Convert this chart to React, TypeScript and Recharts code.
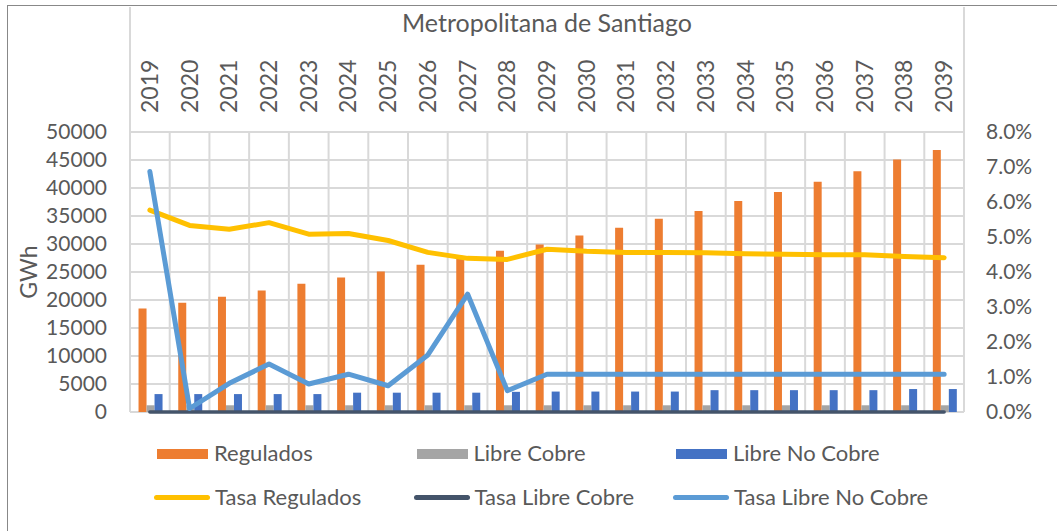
import React from 'react';
import { ComposedChart, Bar, Line, XAxis, YAxis, CartesianGrid, Legend } from 'recharts';

const years = ['2019', '2020', '2021', '2022', '2023', '2024', '2025', '2026', '2027', '2028', '2029', '2030', '2031', '2032', '2033', '2034', '2035', '2036', '2037', '2038', '2039'];
const regulados = [18500, 19500, 20600, 21700, 22900, 24000, 25100, 26300, 27600, 28800, 29900, 31500, 32900, 34500, 35900, 37700, 39300, 41100, 43000, 45100, 46800];
const libreCobre = [1200, 1200, 1200, 1200, 1200, 1200, 1200, 1200, 1200, 1200, 1200, 1200, 1200, 1200, 1200, 1200, 1200, 1200, 1200, 1200, 1200];
const libreNoCobre = [3200, 3200, 3200, 3200, 3200, 3450, 3450, 3450, 3450, 3600, 3650, 3650, 3650, 3650, 3900, 3900, 3900, 3900, 3900, 4100, 4100];
const tasaRegulados = [0.0577, 0.0533, 0.0522, 0.0541, 0.0508, 0.051, 0.049, 0.0456, 0.0439, 0.0436, 0.0465, 0.0459, 0.0456, 0.0456, 0.0455, 0.0452, 0.0451, 0.0449, 0.0449, 0.0444, 0.0441];
const tasaLibreCobre = [0, 0, 0, 0, 0, 0, 0, 0, 0, 0, 0, 0, 0, 0, 0, 0, 0, 0, 0, 0, 0];
const tasaLibreNoCobre = [0.0687, 0.001, 0.0082, 0.0137, 0.008, 0.0108, 0.0075, 0.0163, 0.0337, 0.0061, 0.0108, 0.0108, 0.0108, 0.0108, 0.0108, 0.0108, 0.0108, 0.0108, 0.0108, 0.0108, 0.0108];
const leftTicks = [0, 5000, 10000, 15000, 20000, 25000, 30000, 35000, 40000, 45000, 50000];
const rightTicks = [0, 0.01, 0.02, 0.03, 0.04, 0.05, 0.06, 0.07, 0.08];
const title = 'Metropolitana de Santiago';
const yLabel = 'GWh';

const legendItems = [
  { name: 'Regulados', color: '#ED7D31', kind: 'rect' },
  { name: 'Libre Cobre', color: '#A5A5A5', kind: 'rect' },
  { name: 'Libre No Cobre', color: '#4472C4', kind: 'rect' },
  { name: 'Tasa Regulados', color: '#FFC000', kind: 'line' },
  { name: 'Tasa Libre Cobre', color: '#44546A', kind: 'line' },
  { name: 'Tasa Libre No Cobre', color: '#5B9BD5', kind: 'line' },
];

const data = years.map((y, i) => ({
  year: y,
  regulados: regulados[i],
  libreCobre: libreCobre[i],
  libreNoCobre: libreNoCobre[i],
  tasaRegulados: tasaRegulados[i],
  tasaLibreCobre: tasaLibreCobre[i],
  tasaLibreNoCobre: tasaLibreNoCobre[i],
}));

const FONT = 'Lato, "Open Sans", sans-serif';
const TEXT = '#595959';

const YearTick = (props: any) => {
  const { x, y, payload } = props;
  return (
    <text
      x={x}
      y={y}
      transform={`rotate(-90, ${x}, ${y})`}
      textAnchor="start"
      dy="0.35em"
      fill={TEXT}
      fontSize={23}
      fontFamily={FONT}
    >
      {payload.value}
    </text>
  );
};

const renderLegend = () => (
  <div style={{ position: 'relative', width: 1057, height: 80, fontFamily: FONT, fontSize: 22, color: TEXT }}>
    {legendItems.map((it, i) => {
      const col = i % 3;
      const row = Math.floor(i / 3);
      const isRect = it.kind === 'rect';
      return (
        <div
          key={it.name}
          style={{
            position: 'absolute',
            left: (isRect ? 157 : 154) + col * 259.5,
            top: row * 44,
            height: 30,
            display: 'flex',
            alignItems: 'center',
            whiteSpace: 'nowrap',
          }}
        >
          <div
            style={{
              width: isRect ? 51 : 56,
              height: isRect ? 10 : 5,
              borderRadius: isRect ? 0 : 3,
              background: it.color,
              marginRight: isRect ? 6 : 5,
              marginTop: isRect ? 4 : 2,
            }}
          />
          <span>{it.name}</span>
        </div>
      );
    })}
  </div>
);

export default function App() {
  return (
    <div style={{ position: 'absolute', left: 0, top: 0, width: 1057, height: 531, background: '#fff', overflow: 'hidden' }}>
      <div style={{ position: 'absolute', left: 7, top: 5, width: 1100, height: 600, borderLeft: '1px solid #888', borderTop: '1px solid #888' }} />
      <div style={{ position: 'absolute', left: 129, top: 7, width: 836, height: 126, boxSizing: 'border-box', borderLeft: '2px solid #d9d9d9', borderRight: '2px solid #d9d9d9' }} />
      <ComposedChart
        width={1057}
        height={531}
        data={data}
        margin={{ top: 7, right: 0, bottom: 119, left: 8 }}
        barCategoryGap="21.5%"
        barGap={0}
        style={{ position: 'absolute', left: 0, top: 0, fontFamily: FONT }}
      >
        <CartesianGrid
          yAxisId="left"
          stroke="#d9d9d9"
          strokeWidth={2}
          verticalCoordinatesGenerator={({ offset }: any) =>
            years.concat(['']).map((_, i) => offset.left + (i * offset.width) / years.length)
          }
        />
        <XAxis
          dataKey="year"
          orientation="top"
          height={125}
          axisLine={false}
          tickLine={false}
          tickMargin={13}
          interval={0}
          tick={<YearTick />}
          label={(props: any) => {
            const vb = props.viewBox;
            return (
              <text x={vb.x + vb.width / 2} y={vb.y + 25} textAnchor="middle" fill={TEXT} fontSize={25} fontFamily={FONT}>
                {title}
              </text>
            );
          }}
        />
        <YAxis
          yAxisId="left"
          domain={[0, 50000]}
          ticks={leftTicks}
          interval={0}
          width={122}
          axisLine={false}
          tickLine={false}
          tickMargin={17}
          tick={{ fill: TEXT, fontSize: 21, fontFamily: FONT }}
          label={(props: any) => {
            const vb = props.viewBox;
            const cx = vb.x + 21;
            const cy = vb.y + vb.height / 2;
            return (
              <text x={cx} y={cy} transform={`rotate(-90, ${cx}, ${cy})`} textAnchor="middle" dy="0.35em" fill={TEXT} fontSize={23} fontFamily={FONT}>
                {yLabel}
              </text>
            );
          }}
        />
        <YAxis
          yAxisId="right"
          orientation="right"
          domain={[0, 0.08]}
          ticks={rightTicks}
          interval={0}
          width={93}
          axisLine={false}
          tickLine={false}
          tickMargin={16}
          tickFormatter={(v: number) => (v * 100).toFixed(1) + '%'}
          tick={{ fill: TEXT, fontSize: 21, fontFamily: FONT }}
        />
        <Bar yAxisId="left" dataKey="regulados" name="Regulados" fill="#ED7D31" isAnimationActive={false} />
        <Bar yAxisId="left" dataKey="libreCobre" name="Libre Cobre" fill="#A5A5A5" isAnimationActive={false} />
        <Bar yAxisId="left" dataKey="libreNoCobre" name="Libre No Cobre" fill="#4472C4" isAnimationActive={false} />
        <Line yAxisId="right" dataKey="tasaRegulados" name="Tasa Regulados" stroke="#FFC000" strokeWidth={5} strokeLinecap="round" strokeLinejoin="round" dot={false} activeDot={false} isAnimationActive={false} />
        <Line yAxisId="right" dataKey="tasaLibreCobre" name="Tasa Libre Cobre" stroke="#44546A" strokeWidth={3.5} strokeLinecap="round" strokeLinejoin="round" dot={false} activeDot={false} isAnimationActive={false} />
        <Line yAxisId="right" dataKey="tasaLibreNoCobre" name="Tasa Libre No Cobre" stroke="#5B9BD5" strokeWidth={5} strokeLinecap="round" strokeLinejoin="round" dot={false} activeDot={false} isAnimationActive={false} />
        <Legend
          verticalAlign="middle"
          align="center"
          layout="horizontal"
          content={renderLegend}
          wrapperStyle={{ top: 437, left: 0, width: 1057, height: 80 }}
        />
      </ComposedChart>
    </div>
  );
}
